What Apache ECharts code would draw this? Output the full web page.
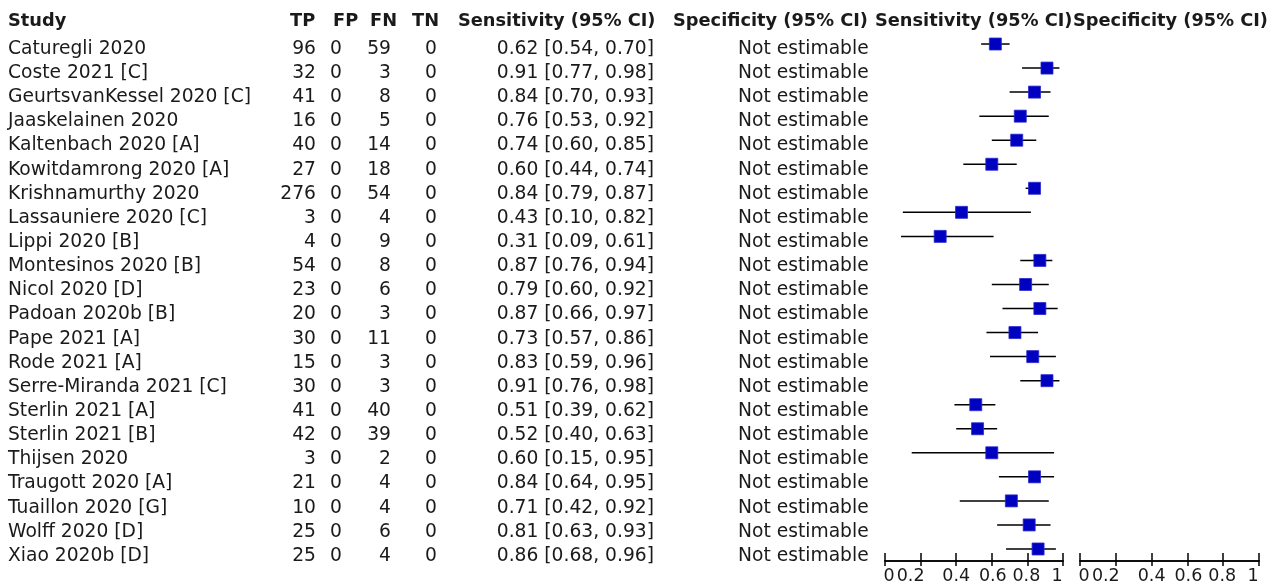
<!DOCTYPE html>
<html>
<head>
<meta charset="utf-8">
<script src="https://cdn.jsdelivr.net/npm/echarts@6/dist/echarts.min.js"></script>
<style>
html,body{margin:0;padding:0;background:#fff;}
#chart{width:1280px;height:585px;}
</style>
</head>
<body>
<div id="chart"></div>
<script>
// ---- data ----
const studies = [
  'Caturegli 2020', 'Coste 2021 [C]', 'GeurtsvanKessel 2020 [C]', 'Jaaskelainen 2020',
  'Kaltenbach 2020 [A]', 'Kowitdamrong 2020 [A]', 'Krishnamurthy 2020', 'Lassauniere 2020 [C]',
  'Lippi 2020 [B]', 'Montesinos 2020 [B]', 'Nicol 2020 [D]', 'Padoan 2020b [B]',
  'Pape 2021 [A]', 'Rode 2021 [A]', 'Serre-Miranda 2021 [C]', 'Sterlin 2021 [A]',
  'Sterlin 2021 [B]', 'Thijsen 2020', 'Traugott 2020 [A]', 'Tuaillon 2020 [G]',
  'Wolff 2020 [D]', 'Xiao 2020b [D]'
];
const TP = [96, 32, 41, 16, 40, 27, 276, 3, 4, 54, 23, 20, 30, 15, 30, 41, 42, 3, 21, 10, 25, 25];
const FP = [0, 0, 0, 0, 0, 0, 0, 0, 0, 0, 0, 0, 0, 0, 0, 0, 0, 0, 0, 0, 0, 0];
const FN = [59, 3, 8, 5, 14, 18, 54, 4, 9, 8, 6, 3, 11, 3, 3, 40, 39, 2, 4, 4, 6, 4];
const TN = [0, 0, 0, 0, 0, 0, 0, 0, 0, 0, 0, 0, 0, 0, 0, 0, 0, 0, 0, 0, 0, 0];
const sens   = [0.62, 0.91, 0.84, 0.76, 0.74, 0.60, 0.84, 0.43, 0.31, 0.87, 0.79, 0.87, 0.73, 0.83, 0.91, 0.51, 0.52, 0.60, 0.84, 0.71, 0.81, 0.86];
const sensLo = [0.54, 0.77, 0.70, 0.53, 0.60, 0.44, 0.79, 0.10, 0.09, 0.76, 0.60, 0.66, 0.57, 0.59, 0.76, 0.39, 0.40, 0.15, 0.64, 0.42, 0.63, 0.68];
const sensHi = [0.70, 0.98, 0.93, 0.92, 0.85, 0.74, 0.87, 0.82, 0.61, 0.94, 0.92, 0.97, 0.86, 0.96, 0.98, 0.62, 0.63, 0.95, 0.95, 0.92, 0.93, 0.96];
// specificity is not estimable for every study (FP = TN = 0)
const spec   = [null, null, null, null, null, null, null, null, null, null, null, null, null, null, null, null, null, null, null, null, null, null];
const headers = ['Study', 'TP', 'FP', 'FN', 'TN', 'Sensitivity (95% CI)', 'Specificity (95% CI)', 'Sensitivity (95% CI)', 'Specificity (95% CI)'];
const axisTicks = [0, 0.2, 0.4, 0.6, 0.8, 1];

// ---- layout ----
const FONT = '"DejaVu Sans", Verdana, sans-serif';
const TXT = '#1a1a1a';
const headerX = [8, 290, 333, 370, 412, 458, 673, 875, 1073];
const colX = { study: 8, tp: 316, fp: 342, fn: 391, tn: 437, sens: 654, spec: 738 };
const GRID_TOP = 32, GRID_H = 531;
const TEXT_DY = 5;
const BODY_FONT = '18.7px ' + FONT;
const HEAD_FONT = 'bold 17.8px ' + FONT;
// small horizontal nudges of the tick labels (px), as in the reference
const tickLabelShift = [4, -10, 0, 1, -1, -6];

const f2 = v => v.toFixed(2);
const rows = studies.map((s, i) => [0, i]);

function tableItem(params, api) {
  const i = api.value(1);
  const y = api.coord([0, i])[1] + TEXT_DY;
  const mk = (text, x, align) => ({
    type: 'text', x: x, y: y,
    style: { text: text, align: align, verticalAlign: 'middle', font: BODY_FONT, fill: TXT }
  });
  const sensTxt = f2(sens[i]) + ' [' + f2(sensLo[i]) + ', ' + f2(sensHi[i]) + ']';
  const specTxt = spec[i] == null ? 'Not estimable' : f2(spec[i]);
  return {
    type: 'group',
    children: [
      mk(studies[i], colX.study, 'left'),
      mk(String(TP[i]), colX.tp, 'right'),
      mk(String(FP[i]), colX.fp, 'right'),
      mk(String(FN[i]), colX.fn, 'right'),
      mk(String(TN[i]), colX.tn, 'right'),
      mk(sensTxt, colX.sens, 'right'),
      mk(specTxt, colX.spec, 'left')
    ]
  };
}

function forestItem(params, api) {
  const i = api.value(0);
  const lo = api.coord([api.value(1), i]);
  const pt = api.coord([api.value(2), i]);
  const hi = api.coord([api.value(3), i]);
  const s = 12;
  return {
    type: 'group',
    children: [
      { type: 'line', shape: { x1: lo[0], y1: lo[1], x2: hi[0], y2: hi[1] }, style: { stroke: '#000', lineWidth: 1.5 } },
      { type: 'rect', shape: { x: pt[0] - s / 2, y: pt[1] - s / 2, width: s, height: s }, style: { fill: '#0000c0', stroke: '#2a2ad0', lineWidth: 0.8 } }
    ]
  };
}

const rich = {};
tickLabelShift.forEach((d, k) => {
  rich['t' + k] = {
    fontSize: 17.5, fontFamily: FONT, color: TXT,
    padding: d >= 0 ? [0, 0, 0, 2 * d] : [0, -2 * d, 0, 0]
  };
});

function xAxisPair(gridIndex) {
  const base = {
    type: 'value', gridIndex: gridIndex, min: 0, max: 1, interval: 0.2, position: 'bottom',
    splitLine: { show: false },
    axisLine: { show: true, lineStyle: { color: '#000', width: 1.5 } }
  };
  return [
    Object.assign({}, base, {
      axisTick: { show: true, inside: true, length: 8, lineStyle: { color: '#000', width: 1.5 } },
      axisLabel: {
        show: true, margin: 6, fontSize: 17.5, fontFamily: FONT, color: TXT, rich: rich,
        formatter: v => {
          const k = axisTicks.findIndex(t => Math.abs(t - v) < 1e-9);
          return k < 0 ? String(v) : '{t' + k + '|' + axisTicks[k] + '}';
        }
      }
    }),
    Object.assign({}, base, {
      axisTick: { show: true, inside: false, length: 5, lineStyle: { color: '#000', width: 1.5 } },
      axisLabel: { show: false }
    })
  ];
}

const yBase = gi => ({
  type: 'category', gridIndex: gi, data: studies, inverse: true, show: false,
  boundaryGap: true
});

const chart = echarts.init(document.getElementById('chart'), null, { renderer: 'canvas' });
chart.setOption({
  animation: false,
  backgroundColor: '#fff',
  grid: [
    { left: 0, top: GRID_TOP, width: 870, height: GRID_H },
    { left: 885, top: GRID_TOP, width: 178, height: GRID_H },
    { left: 1080, top: GRID_TOP, width: 179, height: GRID_H }
  ],
  xAxis: [
    { type: 'value', gridIndex: 0, min: 0, max: 1, show: false }
  ].concat(xAxisPair(1), xAxisPair(2)),
  yAxis: [yBase(0), yBase(1), yBase(2)],
  graphic: headers.map((h, k) => ({
    type: 'text', left: headerX[k], top: 12,
    style: { text: h, font: HEAD_FONT, fill: TXT }
  })),
  series: [
    {
      type: 'custom', xAxisIndex: 0, yAxisIndex: 0, renderItem: tableItem,
      data: rows, encode: { x: 0, y: 1 }, clip: false, silent: true
    },
    {
      type: 'custom', xAxisIndex: 1, yAxisIndex: 1, renderItem: forestItem,
      data: studies.map((s, i) => [i, sensLo[i], sens[i], sensHi[i]]),
      encode: { x: [1, 2, 3], y: 0 }, clip: false, silent: true
    }
  ]
});
</script>
</body>
</html>
